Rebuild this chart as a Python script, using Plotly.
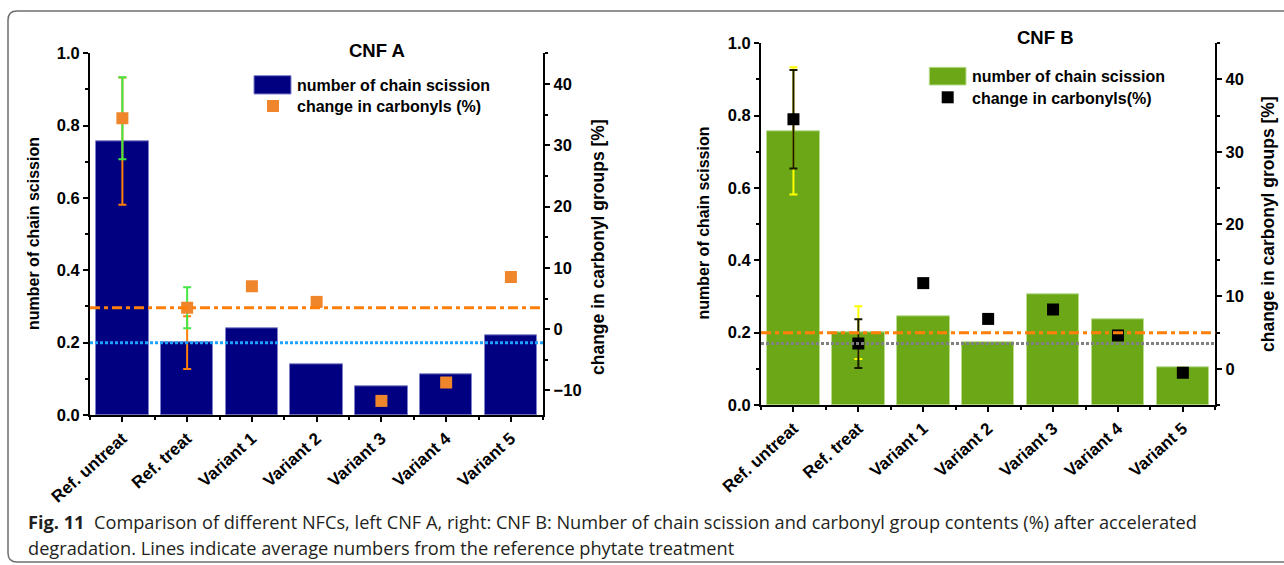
import plotly.graph_objects as go

# ---- data -------------------------------------------------------------
categories = ["Ref. untreat", "Ref. treat", "Variant 1", "Variant 2",
              "Variant 3", "Variant 4", "Variant 5"]

# CNF A
cnfA_scission = [0.757, 0.200, 0.241, 0.140, 0.080, 0.112, 0.220]
cnfA_carbonyl = [34.4, 3.5, 7.0, 4.45, -11.7, -8.7, 8.5]
cnfA_scission_err = [0.176, 0.073]      # Ref. untreat, Ref. treat
cnfA_carbonyl_err = [6.7, 3.35]

# CNF B
cnfB_scission = [0.758, 0.200, 0.244, 0.172, 0.306, 0.236, 0.105]
cnfB_carbonyl = [34.5, 3.5, 11.85, 6.9, 8.2, 4.6, -0.55]
cnfB_scission_err = [0.176, 0.073]
cnfB_carbonyl_err = [6.8, 3.37]

REF = 1  # index of the reference phytate treatment

# ---- page geometry (pixels) ------------------------------------------
W, H = 1284, 565


def px(x):
    return x / W


def py(y):
    return 1 - y / H


FONT = "Liberation Sans, Arial, sans-serif"
CAPTION_FONT = "Open Sans, Liberation Sans, sans-serif"
idx = list(range(len(categories)))
err_idx = idx[:len(cnfA_scission_err)]

fig = go.Figure()

# ---- CNF A ------------------------------------------------------------
fig.add_trace(go.Bar(
    x=idx, y=cnfA_scission, width=0.81, xaxis="x", yaxis="y",
    marker=dict(color="#000080", line=dict(color="#8080c8", width=1)),
    showlegend=False))
fig.add_trace(go.Scatter(
    x=err_idx, y=cnfA_scission[:len(err_idx)], mode="markers",
    xaxis="x", yaxis="y", marker=dict(color="rgba(0,0,0,0)", size=2),
    error_y=dict(type="data", array=cnfA_scission_err, color="#ff7f0a",
                 thickness=2, width=4),
    showlegend=False, hoverinfo="skip"))
fig.add_trace(go.Scatter(
    x=err_idx, y=cnfA_carbonyl[:len(err_idx)], mode="markers",
    xaxis="x", yaxis="y2", marker=dict(color="rgba(0,0,0,0)", size=2),
    error_y=dict(type="data", array=cnfA_carbonyl_err, color="#44e844",
                 thickness=2, width=4),
    showlegend=False, hoverinfo="skip"))
fig.add_trace(go.Scatter(
    x=idx, y=cnfA_carbonyl, mode="markers", xaxis="x", yaxis="y2",
    marker=dict(symbol="square", size=12, color="#f0862c"),
    showlegend=False))

# ---- CNF B ------------------------------------------------------------
fig.add_trace(go.Bar(
    x=idx, y=cnfB_scission, width=0.81, xaxis="x2", yaxis="y3",
    marker=dict(color="#6ca718", line=dict(color="#b8dc8c", width=1)),
    showlegend=False))
fig.add_trace(go.Scatter(
    x=err_idx, y=cnfB_scission[:len(err_idx)], mode="markers",
    xaxis="x2", yaxis="y3", marker=dict(color="rgba(0,0,0,0)", size=2),
    error_y=dict(type="data", array=cnfB_scission_err, color="#ffff00",
                 thickness=2, width=4),
    showlegend=False, hoverinfo="skip"))
fig.add_trace(go.Scatter(
    x=err_idx, y=cnfB_carbonyl[:len(err_idx)], mode="markers",
    xaxis="x2", yaxis="y4", marker=dict(color="rgba(0,0,0,0)", size=2),
    error_y=dict(type="data", array=cnfB_carbonyl_err, color="#1a1a00",
                 thickness=2, width=4),
    showlegend=False, hoverinfo="skip"))
fig.add_trace(go.Scatter(
    x=idx, y=cnfB_carbonyl, mode="markers", xaxis="x2", yaxis="y4",
    marker=dict(symbol="square", size=12, color="#000000"),
    showlegend=False))

# ---- axes -------------------------------------------------------------
tickfont_y = dict(family=FONT, size=16.5, color="black", weight="bold")
tickfont_x = dict(family=FONT, size=17, color="black", weight="bold")


def xaxis(domain, anchor):
    return dict(domain=domain, anchor=anchor, range=[-0.5, 6.5],
                tickmode="array", tickvals=idx, ticktext=categories,
                tickangle=-42, tickfont=tickfont_x, automargin=False,
                ticks="outside", ticklen=5, tickwidth=2, tickcolor="black",
                minor=dict(tick0=0.5, dtick=1, ticks="outside", ticklen=3,
                           tickwidth=1.5, tickcolor="black"),
                showline=True, linecolor="black", linewidth=2,
                showgrid=False, zeroline=False, fixedrange=True)


def yaxis(domain, anchor, rng, dtick, side="left", overlaying=None):
    d = dict(domain=domain, anchor=anchor, range=rng, dtick=dtick,
             side=side, tickfont=tickfont_y, automargin=False,
             ticks="outside", ticklen=5, tickwidth=1.5, tickcolor="black",
             minor=dict(dtick=dtick / 2, ticks="outside", ticklen=3,
                        tickwidth=1.5, tickcolor="black"),
             showline=True, linecolor="black", linewidth=2,
             showgrid=False, zeroline=False, fixedrange=True)
    if overlaying:
        d["overlaying"] = overlaying
    if dtick < 1:
        d["tickformat"] = ".1f"
    return d


dom_xA = [px(90), px(543.3)]
dom_yA = [py(415), py(53.3)]
dom_xB = [px(761), px(1215.3)]
dom_yB = [py(405), py(43.3)]

fig.update_layout(
    xaxis=xaxis(dom_xA, "y"),
    yaxis=yaxis(dom_yA, "x", [0, 1.0], 0.2),
    yaxis2=yaxis(dom_yA, "x", [-14, 45], 10, side="right", overlaying="y"),
    xaxis2=xaxis(dom_xB, "y3"),
    yaxis3=yaxis(dom_yB, "x2", [0, 1.0], 0.2),
    yaxis4=yaxis(dom_yB, "x2", [-5, 45], 10, side="right", overlaying="y3"),
)

# ---- reference-treatment average lines ---------------------------------
shapes = [
    dict(type="line", xref="x domain", yref="y2", x0=0, x1=1,
         y0=cnfA_carbonyl[REF], y1=cnfA_carbonyl[REF],
         line=dict(color="#ff7f0a", width=3, dash="10px,4px,4px,4px")),
    dict(type="line", xref="x domain", yref="y", x0=0, x1=1,
         y0=cnfA_scission[REF], y1=cnfA_scission[REF],
         line=dict(color="#1ea3ff", width=3, dash="3px,2px")),
    dict(type="line", xref="x2 domain", yref="y3", x0=0, x1=1,
         y0=cnfB_scission[REF], y1=cnfB_scission[REF],
         line=dict(color="#ff7f0a", width=3, dash="10px,4px,4px,4px")),
    dict(type="line", xref="x2 domain", yref="y4", x0=0, x1=1,
         y0=cnfB_carbonyl[REF], y1=cnfB_carbonyl[REF],
         line=dict(color="#808080", width=3, dash="3px,2px")),
]

# legend swatches
shapes += [
    dict(type="rect", xref="paper", yref="paper",
         x0=px(254), x1=px(291), y0=py(94), y1=py(75.7),
         fillcolor="#000080", line=dict(color="#8080c8", width=1)),
    dict(type="rect", xref="paper", yref="paper",
         x0=px(267), x1=px(279), y0=py(112), y1=py(100),
         fillcolor="#f0862c", line=dict(width=0)),
    dict(type="rect", xref="paper", yref="paper",
         x0=px(929.3), x1=px(966), y0=py(85), y1=py(67.3),
         fillcolor="#6ca718", line=dict(color="#b8dc8c", width=1)),
    dict(type="rect", xref="paper", yref="paper",
         x0=px(941.7), x1=px(953.7), y0=py(103.3), y1=py(91.3),
         fillcolor="#000000", line=dict(width=0)),
]

# rounded frame around the figure
r = 9
x0f, y0f, x1f, y1f = 8, 11, 1295, 562
shapes.append(dict(
    type="path", xref="paper", yref="paper",
    path=(f"M {px(x0f)},{py(y0f + r)} "
          f"Q {px(x0f)},{py(y0f)} {px(x0f + r)},{py(y0f)} "
          f"L {px(x1f)},{py(y0f)} L {px(x1f)},{py(y1f)} "
          f"L {px(x0f + r)},{py(y1f)} "
          f"Q {px(x0f)},{py(y1f)} {px(x0f)},{py(y1f - r)} Z"),
    line=dict(color="#6e6e6e", width=1.5), fillcolor="rgba(0,0,0,0)",
    layer="below"))


# ---- text -------------------------------------------------------------
def label(x, y, text, size, xanchor="center", angle=0, family=FONT,
          color="black"):
    return dict(x=px(x), y=py(y), xref="paper", yref="paper", text=text,
                showarrow=False, xanchor=xanchor, yanchor="middle",
                textangle=angle, font=dict(family=family, size=size,
                                           color=color))


annotations = [
    label(376.7, 50, "<b>CNF A</b>", 18.5),
    label(1045, 37.5, "<b>CNF B</b>", 18.5),
    label(295, 85, "<b>number of chain scission</b>", 16, xanchor="left"),
    label(295, 106, "<b>change in carbonyls (%)</b>", 16, xanchor="left"),
    label(970, 76.5, "<b>number of chain scission</b>", 16, xanchor="left"),
    label(970, 98, "<b>change in carbonyls(%)</b>", 16, xanchor="left"),
    label(33, 234, "<b>number of chain scission</b>", 16, angle=-90),
    label(598, 247, "<b>change in carbonyl groups [%]</b>", 17.5, angle=-90),
    label(703, 223.5, "<b>number of chain scission</b>", 16, angle=-90),
    label(1268, 224, "<b>change in carbonyl groups [%]</b>", 17.5,
          angle=-90),
    label(26, 522, "<b>Fig. 11</b>  Comparison of different NFCs, left CNF A, "
          "right: CNF B: Number of chain scission and carbonyl group "
          "contents (%) after accelerated", 18.2, xanchor="left",
          family=CAPTION_FONT, color="#231f20"),
    label(26, 548, "degradation. Lines indicate average numbers from the "
          "reference phytate treatment", 18.2, xanchor="left",
          family=CAPTION_FONT, color="#231f20"),
]

fig.update_layout(
    width=W, height=H, autosize=False,
    margin=dict(l=0, r=0, t=0, b=0, pad=0, autoexpand=False),
    paper_bgcolor="white", plot_bgcolor="rgba(0,0,0,0)",
    shapes=shapes, annotations=annotations,
    bargap=0, showlegend=False,
)

fig.write_html("out.html")
